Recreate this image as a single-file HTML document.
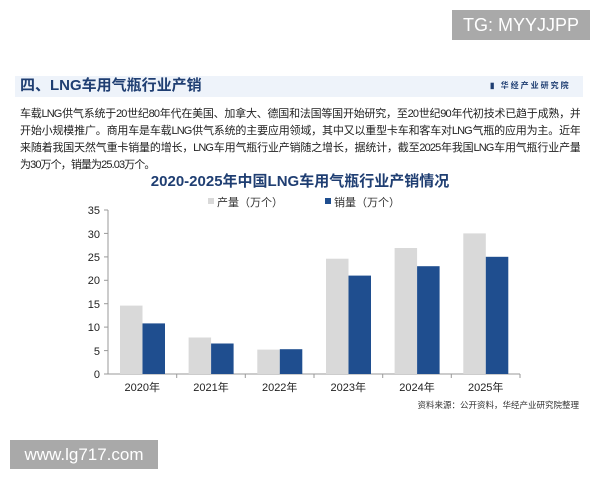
<!DOCTYPE html>
<html><head><meta charset="utf-8"><style>
html,body{margin:0;padding:0;background:#fff;width:600px;height:480px;overflow:hidden;position:relative;font-family:"Liberation Sans","Noto Sans CJK SC",sans-serif}
.tg{position:absolute;left:452px;top:10px;width:138px;height:30px;background:#a9a9a9;color:#fff;font-size:18px;line-height:30px;text-align:center}
.band{position:absolute;left:15px;top:76px;width:568px;height:21px;background:#eef3fa}
.h{position:absolute;left:20px;top:75px;font-size:15px;font-weight:bold;color:#1f3e72;line-height:22px}
.logo{position:absolute;left:490px;top:80px;font-size:8px;color:#1f3e72;font-weight:bold;letter-spacing:2px}
.p{position:absolute;left:20px;width:560px;font-size:11px;letter-spacing:-0.9px;color:#222;line-height:17px;white-space:nowrap;text-align:justify;text-align-last:justify;overflow:hidden}
.ct{position:absolute;left:0;width:600px;top:170px;text-align:center;font-size:15px;font-weight:bold;color:#1f3e72}
.wm{position:absolute;left:10px;top:440px;width:148px;height:29px;background:#a9a9a9;color:#fff;font-size:17px;line-height:29px;text-align:center}
</style></head><body>
<div class="tg">TG: MYYJJPP</div>
<div class="band"></div>
<div class="h">四、LNG车用气瓶行业产销</div>
<div class="logo">▮ 华经产业研究院</div>
<div class="p" style="top:106px">车载LNG供气系统于20世纪80年代在美国、加拿大、德国和法国等国开始研究，至20世纪90年代初技术已趋于成熟，并</div>
<div class="p" style="top:123px">开始小规模推广。商用车是车载LNG供气系统的主要应用领域，其中又以重型卡车和客车对LNG气瓶的应用为主。近年</div>
<div class="p" style="top:140px">来随着我国天然气重卡销量的增长，LNG车用气瓶行业产销随之增长，据统计，截至2025年我国LNG车用气瓶行业产量</div>
<div class="p" style="top:157px;text-align-last:left">为30万个，销量为25.03万个。</div>
<div class="ct">2020-2025年中国LNG车用气瓶行业产销情况</div>
<svg width="600" height="480" style="position:absolute;left:0;top:0" font-family="Liberation Sans,Noto Sans CJK SC,sans-serif">
<rect x="208" y="198" width="6" height="6" fill="#d9d9d9"/>
<text x="217" y="206" font-size="11" fill="#333">产量（万个）</text>
<rect x="325" y="198" width="6" height="6" fill="#1f4e8f"/>
<text x="334" y="206" font-size="11" fill="#333">销量（万个）</text>
<g font-size="11" fill="#222" text-anchor="end">
<text x="100" y="378">0</text><text x="100" y="355">5</text><text x="100" y="331">10</text><text x="100" y="308">15</text><text x="100" y="284">20</text><text x="100" y="261">25</text><text x="100" y="238">30</text><text x="100" y="214">35</text>
</g>
<g stroke="#999" stroke-width="1">
<line x1="108" y1="210" x2="108" y2="374"/><line x1="108" y1="374" x2="520" y2="374"/>
<line x1="104" y1="210" x2="108" y2="210"/><line x1="104" y1="233.4" x2="108" y2="233.4"/><line x1="104" y1="256.9" x2="108" y2="256.9"/><line x1="104" y1="280.3" x2="108" y2="280.3"/><line x1="104" y1="303.7" x2="108" y2="303.7"/><line x1="104" y1="327.1" x2="108" y2="327.1"/><line x1="104" y1="350.6" x2="108" y2="350.6"/><line x1="104" y1="374" x2="108" y2="374"/>
<line x1="176.7" y1="374" x2="176.7" y2="378"/><line x1="245.3" y1="374" x2="245.3" y2="378"/><line x1="314" y1="374" x2="314" y2="378"/><line x1="382.7" y1="374" x2="382.7" y2="378"/><line x1="451.3" y1="374" x2="451.3" y2="378"/><line x1="520" y1="374" x2="520" y2="378"/>
</g>
<g fill="#d9d9d9">
<rect x="120" y="305.6" width="22.5" height="68.4"/>
<rect x="188.6" y="337.5" width="22.5" height="36.5"/>
<rect x="257.3" y="349.6" width="22.5" height="24.4"/>
<rect x="326" y="258.7" width="22.5" height="115.3"/>
<rect x="394.6" y="248" width="22.5" height="126"/>
<rect x="463.3" y="233.4" width="22.5" height="140.6"/>
</g>
<g fill="#1f4e8f">
<rect x="142.5" y="323.4" width="22.5" height="50.6"/>
<rect x="211.1" y="343.5" width="22.5" height="30.5"/>
<rect x="279.8" y="349.2" width="22.5" height="24.8"/>
<rect x="348.5" y="275.6" width="22.5" height="98.4"/>
<rect x="417.1" y="266.2" width="22.5" height="107.8"/>
<rect x="485.8" y="256.8" width="22.5" height="117.2"/>
</g>
<g font-size="11" fill="#222" text-anchor="middle">
<text x="142.3" y="391">2020年</text><text x="211" y="391">2021年</text><text x="279.7" y="391">2022年</text><text x="348.3" y="391">2023年</text><text x="417" y="391">2024年</text><text x="485.7" y="391">2025年</text>
</g>
<text x="579" y="408" font-size="8.5" fill="#333" text-anchor="end">资料来源：公开资料，华经产业研究院整理</text>
</svg>
<div class="wm">www.lg717.com</div>
</body></html>
